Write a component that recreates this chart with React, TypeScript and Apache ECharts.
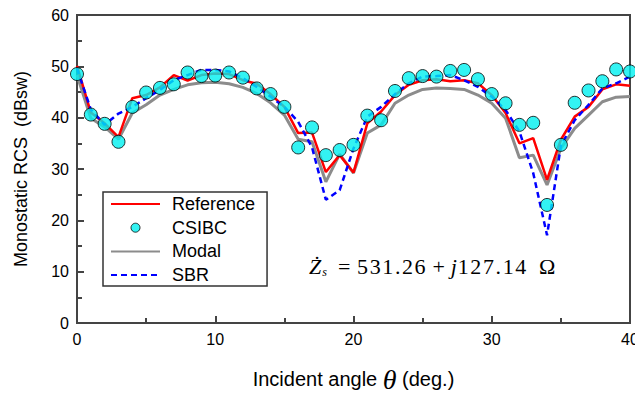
import React, { useEffect, useRef } from "react";
import * as echarts from "echarts";

const angles = Array.from({ length: 41 }, (_, i) => i);

const referenceVals = [50.1, 41.0, 38.9, 36.2, 43.8, 44.4, 45.9, 48.3, 47.2, 48.3, 48.6, 48.5, 47.3, 46.6, 44.6, 42.1, 37.0, 37.1, 29.4, 32.7, 29.3, 38.9, 41.2, 44.4, 46.4, 47.3, 47.5, 47.1, 47.3, 46.7, 44.4, 40.9, 35.0, 36.0, 27.9, 35.7, 40.2, 42.1, 45.5, 46.5, 46.2];

const csibcVals = [48.5, 40.6, 38.8, 35.3, 42.1, 44.9, 45.8, 46.5, 48.8, 48.1, 48.2, 48.8, 47.8, 45.7, 44.6, 42.1, 34.2, 38.1, 32.7, 33.7, 34.7, 40.4, 39.5, 45.2, 47.7, 48.1, 48.0, 49.1, 49.3, 47.5, 44.6, 42.8, 38.6, 39.0, 23.0, 34.7, 42.9, 45.3, 47.1, 49.4, 49.0];

const modalVals = [48.3, 39.9, 38.2, 35.8, 40.9, 42.5, 44.4, 45.5, 46.4, 46.8, 46.9, 46.6, 45.9, 44.7, 42.9, 40.5, 35.8, 35.3, 27.5, 32.9, 29.2, 37.0, 38.6, 42.8, 44.4, 45.5, 45.8, 45.7, 45.5, 44.4, 42.8, 39.9, 32.2, 32.7, 26.9, 34.0, 37.9, 40.5, 43.1, 44.0, 44.1];

const sbrVals = [49.6, 41.6, 38.6, 40.8, 42.1, 43.8, 45.4, 47.3, 48.3, 49.3, 49.3, 49.0, 47.7, 46.0, 44.1, 42.1, 39.2, 34.2, 24.0, 25.9, 34.0, 40.2, 42.1, 44.6, 46.7, 48.0, 48.1, 48.3, 47.3, 46.0, 44.1, 41.5, 37.3, 29.2, 17.1, 34.5, 39.5, 42.5, 45.7, 46.7, 48.0];

const xTicks = { min: 0, max: 40, interval: 10 };
const yTicks = { min: 0, max: 60, interval: 10 };

const pair = (vals: number[]) => angles.map((a, i) => [a, vals[i]]);

// wrap each character of a string in its own rich token, so that spacing can be widened
const spread = (s: string, tok: string) => s.split("").map((c) => `{${tok}|${c}}`).join("");

export default function App() {
  const ref = useRef<HTMLDivElement>(null);
  useEffect(() => {
    if (!ref.current) return;
    const chart = echarts.init(ref.current, undefined, { renderer: "svg" });
    const sans = "Liberation Sans";
    const serif = "Liberation Serif";
    const annot =
      "{z|Ż}{s|s}{h|}{n|=}{g|}" +
      spread("531.26", "d") +
      "{g|}{n|+}{g|}{z|j}" +
      spread("127.14", "d") +
      "{w|}{n|Ω}";
    chart.setOption({
      animation: false,
      backgroundColor: "#ffffff",
      grid: {
        left: 77,
        right: 5,
        top: 15,
        bottom: 73,
        show: true,
        borderColor: "#444444",
        borderWidth: 2,
        outerBoundsMode: "none",
        containLabel: false,
      },
      xAxis: {
        type: "value",
        min: xTicks.min,
        max: xTicks.max,
        interval: xTicks.interval,
        name: "Incident angle {t|θ} (deg.)",
        nameLocation: "middle",
        nameGap: 42,
        nameTextStyle: {
          fontFamily: sans,
          fontSize: 20,
          color: "#000",
          rich: {
            t: { fontFamily: serif, fontStyle: "italic", fontSize: 28, color: "#000" },
          },
        },
        axisLine: { lineStyle: { color: "#444444", width: 2 } },
        axisTick: { inside: true, length: 7, lineStyle: { color: "#444444", width: 2 } },
        minorTick: { show: true, splitNumber: 2, length: 5, lineStyle: { color: "#444444", width: 2 } },
        axisLabel: { fontFamily: sans, fontSize: 16, color: "#000", margin: 8 },
        splitLine: { show: false },
      },
      yAxis: {
        type: "value",
        min: yTicks.min,
        max: yTicks.max,
        interval: yTicks.interval,
        name: "Monostatic RCS  (dBsw)",
        nameLocation: "middle",
        nameGap: 47,
        nameTextStyle: { fontFamily: sans, fontSize: 18, color: "#000" },
        axisLine: { lineStyle: { color: "#444444", width: 2 } },
        axisTick: { inside: true, length: 7, lineStyle: { color: "#444444", width: 2 } },
        minorTick: { show: true, splitNumber: 2, length: 5, lineStyle: { color: "#444444", width: 2 } },
        axisLabel: { fontFamily: sans, fontSize: 16, color: "#000", margin: 8 },
        splitLine: { show: false },
      },
      legend: {
        orient: "vertical",
        left: 103,
        top: 192,
        backgroundColor: "#fff",
        borderColor: "#333",
        borderWidth: 1.5,
        borderRadius: 0,
        padding: [3, 12, 2, 7],
        itemWidth: 49,
        itemHeight: 9,
        itemGap: 5.7,
        textStyle: { fontFamily: sans, fontSize: 18, color: "#000", padding: [0, 0, 0, 7] },
        data: [
          { name: "Reference", itemStyle: { opacity: 0 } },
          { name: "CSIBC", icon: "circle", itemStyle: { borderColor: "#000", borderWidth: 1 } },
          { name: "Modal", itemStyle: { opacity: 0 } },
          { name: "SBR", itemStyle: { opacity: 0 } },
        ],
      },
      graphic: [
        {
          type: "text",
          left: 309,
          top: 255,
          style: {
            text: annot,
            fill: "#000",
            rich: {
              z: { fontFamily: serif, fontStyle: "italic", fontSize: 22, fill: "#000" },
              s: { fontFamily: serif, fontStyle: "italic", fontSize: 12, fill: "#000", verticalAlign: "bottom", padding: [12, 0, 0, 1] },
              n: { fontFamily: serif, fontSize: 22, fill: "#000" },
              d: { fontFamily: serif, fontSize: 22, fill: "#000", padding: [0, 0.8, 0, 0.8] },
              g: { fontSize: 22, width: 6 },
              h: { fontSize: 22, width: 11 },
              w: { fontSize: 22, width: 12 },
            },
          },
        },
      ],
      series: [
        {
          name: "Modal",
          type: "line",
          data: pair(modalVals),
          symbol: "none",
          lineStyle: { color: "#8c8c8c", width: 3 },
          itemStyle: { color: "#8c8c8c" },
          z: 2,
        },
        {
          name: "Reference",
          type: "line",
          data: pair(referenceVals),
          symbol: "none",
          lineStyle: { color: "#ff0000", width: 2.5 },
          itemStyle: { color: "#ff0000" },
          z: 3,
        },
        {
          name: "SBR",
          type: "line",
          data: pair(sbrVals),
          symbol: "none",
          lineStyle: { color: "#0000ff", width: 2.5, type: [6, 4] },
          itemStyle: { color: "#0000ff" },
          z: 4,
        },
        {
          name: "CSIBC",
          type: "scatter",
          data: pair(csibcVals),
          symbol: "circle",
          symbolSize: 13,
          itemStyle: { color: "#00f0f0", borderColor: "#000", borderWidth: 1 },
          z: 5,
        },
      ],
    });
    return () => chart.dispose();
  }, []);
  return (
    <div
      ref={ref}
      style={{ position: "fixed", left: 0, top: 0, width: 635, height: 396, background: "#fff" }}
    />
  );
}
